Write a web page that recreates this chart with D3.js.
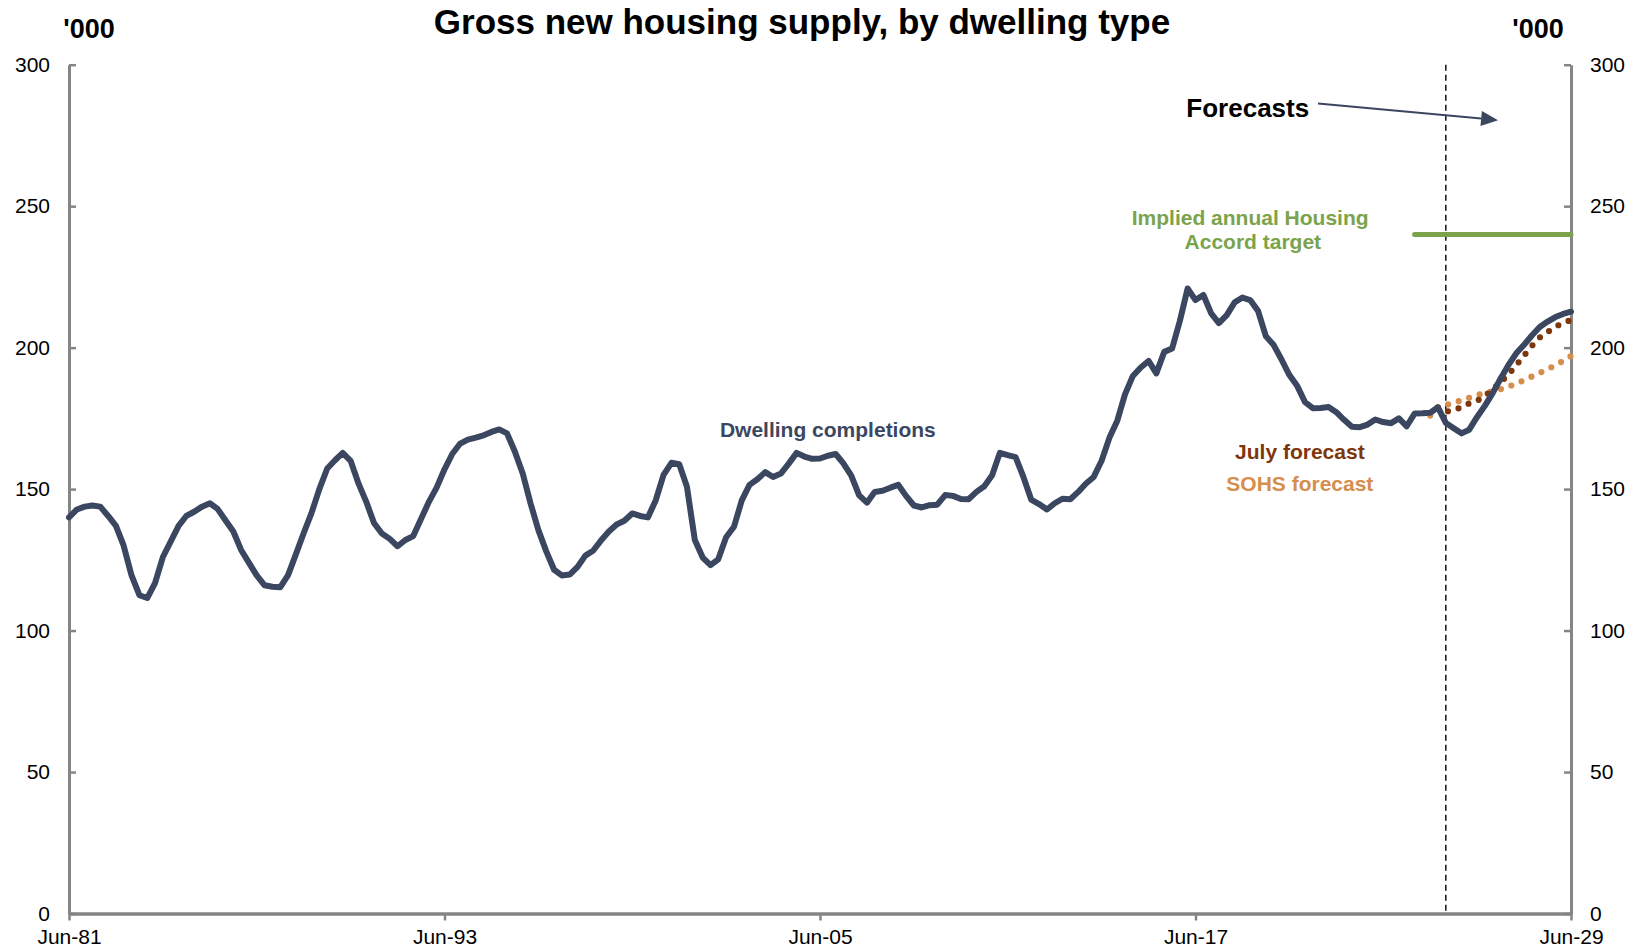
<!DOCTYPE html>
<html>
<head>
<meta charset="utf-8">
<script src="https://cdn.jsdelivr.net/npm/d3@7/dist/d3.min.js"></script>
<style>
  html, body { margin: 0; padding: 0; background: #ffffff; }
  svg { display: block; }
  text { font-family: "Liberation Sans", Arial, Helvetica, sans-serif; }
</style>
</head>
<body>
<svg id="chart" width="1637" height="950"></svg>
<script>
// Quarterly series, starting June 1981 (values in '000 dwellings, rolling annual)
const seriesStart = new Date(1981, 5, 1);

// Dwelling completions, Jun-81 to Jun-25
const completions = [
  140, 142.8, 143.8, 144.2, 143.8, 140.5, 137, 130, 119.5, 112.5,
  111.5, 116.8, 126, 131.5, 137, 140.5, 142, 143.8, 145, 143,
  139, 135, 128.5, 124, 119.5, 116, 115.5, 115.3, 119.6, 127,
  134.5, 141.5, 150, 157.3, 160.2, 162.8, 160, 152, 145.5, 138,
  134.3, 132.4, 129.8, 132, 133.4, 139.5, 145.5, 150.5, 157, 162.5,
  166.1, 167.5, 168.2, 169, 170.2, 171.1, 169.7, 163.2, 155.5, 145,
  135.5, 128, 121.5, 119.5, 119.8, 122.5, 126.5, 128.2, 131.8, 135,
  137.5, 138.8, 141.4, 140.5, 140, 146, 155, 159.3, 158.8, 150.8,
  132, 125.8, 123.1, 125.2, 133, 136.7, 146, 151.5, 153.5, 156,
  154.3, 155.5, 159, 162.8, 161.5, 160.7, 160.8, 161.8, 162.4, 159.1,
  154.8, 147.8, 145.2, 149, 149.4, 150.5, 151.5, 147.6, 144.2, 143.5,
  144.3, 144.5, 147.9, 147.6, 146.5, 146.4, 149, 151, 154.9, 162.8,
  162, 161.3, 154.3, 146.3, 144.7, 142.8, 145, 146.6, 146.4, 149,
  152, 154.3, 160, 168.2, 174.2, 183.5, 190, 193, 195.3, 190.9,
  198.5, 199.7, 209.5, 220.9, 216.8, 218.6, 212.1, 208.7, 211.5, 216,
  217.7, 216.8, 213, 204, 200.9, 195.8, 190.3, 186.4, 180.7, 178.6,
  178.7, 179, 177.2, 174.5, 172, 171.9, 172.8, 174.6, 173.7, 173.3,
  175, 172.2, 176.7, 176.8, 177, 178.9, 173.4
];

// Dwelling completions outlook, Sep-25 to Jun-29
const completionsOutlook = [
  171.5, 169.7, 171, 175.5, 179.5, 184, 189, 193.8,
  198, 201, 204.3, 207.3, 209.2, 210.8, 211.9, 212.7
];

// July forecast, Mar-25 to Jun-29
const julyStart = 175;
const julyForecast = [
  178.8, 177.4, 177.8, 179, 180.3, 181.2, 183, 185.2, 187.7,
  190.5, 193.8, 197.2, 200.6, 203.6, 205.5, 207.4, 208.7, 209.8
];

// SOHS forecast, Dec-24 to Jun-29
const sohsStart = 174;
const sohsForecast = [
  176, 179, 179.7, 180.5, 181.4, 182.3, 183.2, 184, 184.5, 185.3,
  186.2, 187.3, 188.5, 189.8, 191.1, 192.4, 193.8, 195.3, 197
];

// Implied annual Housing Accord target (Jun-24 to Jun-29)
const accordQuarters = [172, 192];
const accordTarget = 240;

// First forecast quarter (Jun-25)
const forecastQuarter = 176;

const xTickLabels = ["Jun-81", "Jun-93", "Jun-05", "Jun-17", "Jun-29"];
const yTicks = [0, 50, 100, 150, 200, 250, 300];

// ---------------------------------------------------------------------------
const quarterDate = q => d3.timeMonth.offset(seriesStart, 3 * q);
const parseTick = d3.timeParse("%b-%y");
const xTickDates = xTickLabels.map(s => parseTick(s));

const svg = d3.select("#chart");

const x = d3.scaleTime()
  .domain([quarterDate(0), quarterDate(192)])
  .range([69, 1571]);
const y = d3.scaleLinear()
  .domain([0, 300])
  .range([913.5, 64.7]);

const axisGrey = "#858585";
const navy = "#3b4760";

// Title
svg.append("text")
  .attr("x", 802).attr("y", 34)
  .attr("text-anchor", "middle")
  .attr("font-size", 35).attr("font-weight", "bold").attr("fill", "#000")
  .text("Gross new housing supply, by dwelling type");

// Unit labels
svg.append("text")
  .attr("x", 89).attr("y", 37.5)
  .attr("text-anchor", "middle")
  .attr("font-size", 27).attr("font-weight", "bold").attr("fill", "#000")
  .text("'000");
svg.append("text")
  .attr("x", 1538).attr("y", 37.5)
  .attr("text-anchor", "middle")
  .attr("font-size", 27).attr("font-weight", "bold").attr("fill", "#000")
  .text("'000");

function styleAxis(g, width) {
  g.select(".domain").attr("stroke", axisGrey).attr("stroke-width", width);
  g.selectAll(".tick line").attr("stroke", axisGrey).attr("stroke-width", 2.5);
  g.selectAll(".tick text").attr("fill", "#000").attr("font-size", 21)
    .attr("font-family", "'Liberation Sans', Arial, sans-serif");
}

// Left axis
svg.append("g")
  .attr("transform", `translate(${x.range()[0]},0)`)
  .call(d3.axisLeft(y).tickValues(yTicks).tickSizeInner(-7).tickSizeOuter(0).tickPadding(19))
  .call(g => styleAxis(g, 3));

// Right axis
svg.append("g")
  .attr("transform", `translate(${x.range()[1]},0)`)
  .call(d3.axisRight(y).tickValues(yTicks).tickSizeInner(-7).tickSizeOuter(0).tickPadding(19))
  .call(g => styleAxis(g, 3));

// Bottom axis
svg.append("g")
  .attr("transform", `translate(0,${y(0)})`)
  .call(d3.axisBottom(x).tickValues(xTickDates).tickFormat(d3.timeFormat("%b-%y"))
    .tickSizeInner(7).tickSizeOuter(0).tickPadding(9))
  .call(g => styleAxis(g, 3.5));

// Forecast divider
svg.append("line")
  .attr("x1", x(quarterDate(forecastQuarter))).attr("x2", x(quarterDate(forecastQuarter)))
  .attr("y1", y(300)).attr("y2", y(0))
  .attr("stroke", "#000").attr("stroke-width", 1.4)
  .attr("stroke-dasharray", "6,4");

// Housing Accord target
svg.append("line")
  .attr("x1", x(quarterDate(accordQuarters[0]))).attr("x2", x(quarterDate(accordQuarters[1])))
  .attr("y1", y(accordTarget)).attr("y2", y(accordTarget))
  .attr("stroke", "#7ba34c").attr("stroke-width", 5).attr("stroke-linecap", "round");

const line = d3.line()
  .x(d => x(quarterDate(d.q)))
  .y(d => y(d.v));

const toPoints = (arr, start) => arr.map((v, i) => ({ q: start + i, v }));

// SOHS forecast (dotted)
svg.append("path")
  .datum(toPoints(sohsForecast, sohsStart))
  .attr("d", line).attr("fill", "none")
  .attr("stroke", "#d58e4c").attr("stroke-width", 6.2)
  .attr("stroke-linecap", "round").attr("stroke-dasharray", "0,11");

// July forecast (dotted)
svg.append("path")
  .datum(toPoints(julyForecast, julyStart))
  .attr("d", line).attr("fill", "none")
  .attr("stroke", "#7e360b").attr("stroke-width", 6.2)
  .attr("stroke-linecap", "round").attr("stroke-dasharray", "0,11");

// Dwelling completions, history and outlook
const allCompletions = toPoints(completions.concat(completionsOutlook), 0);
svg.append("path")
  .datum(allCompletions)
  .attr("d", line).attr("fill", "none")
  .attr("stroke", navy).attr("stroke-width", 6)
  .attr("stroke-linejoin", "round").attr("stroke-linecap", "round");

// Annotations
function label(q, v, text, color, size) {
  return svg.append("text")
    .attr("x", x(quarterDate(q))).attr("y", y(v))
    .attr("text-anchor", "middle")
    .attr("font-size", size).attr("font-weight", "bold").attr("fill", color)
    .text(text);
}
label(97, 168.4, "Dwelling completions", navy, 21);
label(157.6, 160.6, "July forecast", "#7e360b", 21);
label(157.6, 149.3, "SOHS forecast", "#d58e4c", 21);
label(151.2, 243.5, "Implied annual Housing", "#7ba34c", 21);
label(151.6, 235, "Accord target", "#7ba34c", 21);
label(150.8, 281.6, "Forecasts", "#000", 26);

// Arrow pointing into the forecast period
const a0 = [x(quarterDate(159.9)), y(286.3)];
const a1 = [x(quarterDate(182.7)), y(280.4)];
const ang = Math.atan2(a1[1] - a0[1], a1[0] - a0[0]);
const headLen = 17, headHalf = 7.5;
const base = [a1[0] - headLen * Math.cos(ang), a1[1] - headLen * Math.sin(ang)];
svg.append("line")
  .attr("x1", a0[0]).attr("y1", a0[1])
  .attr("x2", base[0]).attr("y2", base[1])
  .attr("stroke", navy).attr("stroke-width", 2);
svg.append("path")
  .attr("d", d3.line()([
    a1,
    [base[0] + headHalf * Math.sin(ang), base[1] - headHalf * Math.cos(ang)],
    [base[0] - headHalf * Math.sin(ang), base[1] + headHalf * Math.cos(ang)]
  ]) + "Z")
  .attr("fill", navy);
</script>
</body>
</html>
